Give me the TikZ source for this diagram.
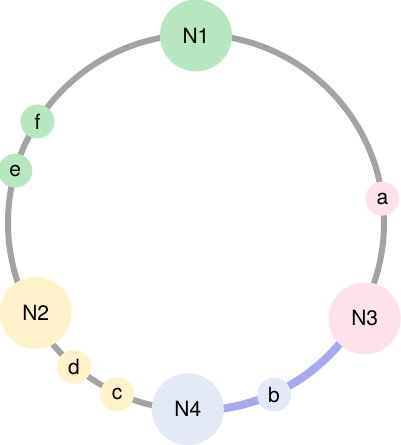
\documentclass[tikz,border=0pt]{standalone}
\usepackage{fontspec}
\setmainfont{TeX Gyre Heros}
\usetikzlibrary{positioning}

\definecolor{ringgray}{RGB}{163,163,163}
\definecolor{hopblue}{RGB}{166,168,240}
\definecolor{leafgreen}{RGB}{183,230,193}
\definecolor{sandyellow}{RGB}{253,242,201}
\definecolor{rosepink}{RGB}{253,226,234}
\definecolor{mistblue}{RGB}{228,233,246}

\begin{document}
\begin{tikzpicture}[x=1pt, y=1pt,
  every node/.style={font=\fontsize{21}{24}\selectfont},
  peer/.style={circle, inner sep=0pt, minimum size=72pt},
  key/.style={circle, inner sep=0pt, minimum size=34pt},
  ring/.style={draw=ringgray, line width=6pt},
  hop/.style={draw=hopblue, line width=8pt}]
\path[use as bounding box] (0,0) rectangle (401,445);
\coordinate (ctr) at (196,222.5);
% the ring and the hop from N3 to N4
\draw[ring] (ctr) circle[radius=188];
\draw[hop] (ctr) ++(-29.6:188) arc[start angle=-29.6, end angle=-92.5, radius=188];
% peers on the ring
\node[peer, fill=leafgreen] (N1) at ([shift={(90:187)}]ctr) {N1};
\node[peer, fill=sandyellow] (N2) at ([shift={(209.4:184)}]ctr) {N2};
\node[peer, fill=rosepink] (N3) at ([shift={(-29.6:194)}]ctr) {N3};
\node[peer, fill=mistblue] (N4) at ([shift={(-92.5:187)}]ctr) {N4};
% keys
\node[key, fill=rosepink] (a) at ([shift={(7.3:188)}]ctr) {a};
\node[key, fill=mistblue] (b) at ([shift={(-65.6:189)}]ctr) {b};
\node[key, fill=sandyellow] (c) at ([shift={(245.3:189)}]ctr) {c};
\node[key, fill=sandyellow] (d) at ([shift={(229.8:189)}]ctr) {d};
\node[key, fill=leafgreen] (e) at ([shift={(164:188)}]ctr) {e};
\node[key, fill=leafgreen] (f) at ([shift={(147.5:188)}]ctr) {f};
\end{tikzpicture}
\end{document}
